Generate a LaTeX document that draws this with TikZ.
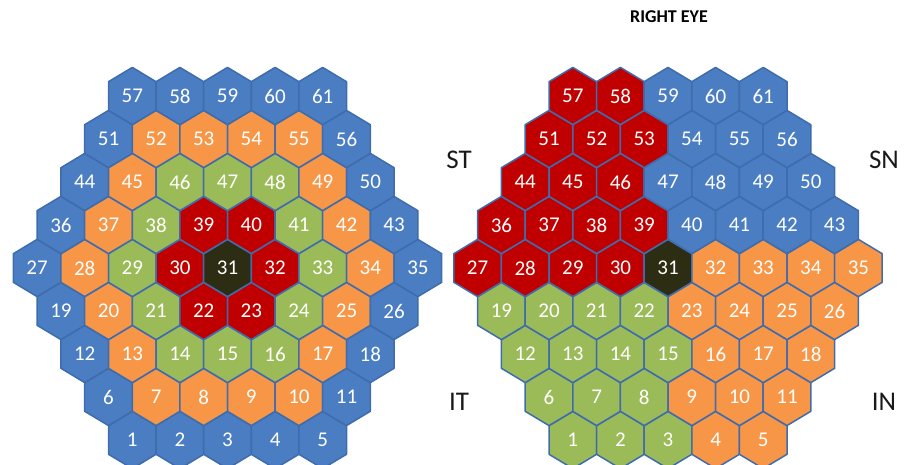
\documentclass[tikz,border=0pt]{standalone}
\usepackage{fontspec}
\setmainfont{Carlito}
\usetikzlibrary{positioning}

\definecolor{hexline}{HTML}{3F6CAD}
\definecolor{cB}{HTML}{4A7DC2}
\definecolor{cO}{HTML}{F79646}
\definecolor{cG}{HTML}{9BBB59}
\definecolor{cR}{HTML}{C00000}
\definecolor{cD}{HTML}{2C2D12}

\begin{document}
\begin{tikzpicture}[
    x=1pt, y=-1pt,
    hexcell/.style={draw=hexline, line width=1.5pt, line join=round},
    cellnum/.style={text=white, font=\fontsize{21}{21}\selectfont, inner sep=0pt},
    side/.style={text=black!90, font=\fontsize{27}{27}\selectfont}
]
\useasboundingbox (0,0) rectangle (909,465);

% left eye
\foreach \r/\f/\cl in {0/1/{B,B,B,B,B}, 1/6/{B,O,O,O,O,B}, 2/12/{B,O,G,G,G,O,B},
    3/19/{B,O,G,R,R,G,O,B}, 4/27/{B,O,G,R,D,R,G,O,B}, 5/36/{B,O,G,R,R,G,O,B},
    6/44/{B,O,G,G,G,O,B}, 7/51/{B,O,O,O,O,B}, 8/57/{B,B,B,B,B}} {
  \pgfmathsetmacro{\k}{9-abs(\r-4)}
  \foreach \c [count=\j from 0] in \cl {
    \pgfmathtruncatemacro{\n}{\f+\j}
    \pgfmathsetmacro{\hx}{227.5+(\j-(\k-1)/2)*47.6}
    \pgfmathsetmacro{\hy}{268-(\r-4)*43}
    \filldraw[hexcell, fill=c\c] (\hx,\hy) +(0,-28.6) -- +(23.8,-14.3) -- +(23.8,14.3)
      -- +(0,28.6) -- +(-23.8,14.3) -- +(-23.8,-14.3) -- cycle;
    \node[cellnum] (l\n) at (\hx,\hy) {\n};
  }
}

% right eye
\foreach \r/\f/\cl in {0/1/{G,G,G,O,O}, 1/6/{G,G,G,O,O,O}, 2/12/{G,G,G,G,O,O,O},
    3/19/{G,G,G,G,O,O,O,O}, 4/27/{R,R,R,R,D,O,O,O,O}, 5/36/{R,R,R,R,B,B,B,B},
    6/44/{R,R,R,B,B,B,B}, 7/51/{R,R,R,B,B,B}, 8/57/{R,R,B,B,B}} {
  \pgfmathsetmacro{\k}{9-abs(\r-4)}
  \foreach \c [count=\j from 0] in \cl {
    \pgfmathtruncatemacro{\n}{\f+\j}
    \pgfmathsetmacro{\hx}{668+(\j-(\k-1)/2)*47.6}
    \pgfmathsetmacro{\hy}{268-(\r-4)*43}
    \filldraw[hexcell, fill=c\c] (\hx,\hy) +(0,-28.6) -- +(23.8,-14.3) -- +(23.8,14.3)
      -- +(0,28.6) -- +(-23.8,14.3) -- +(-23.8,-14.3) -- cycle;
    \node[cellnum] (r\n) at (\hx,\hy) {\n};
  }
}

\node[font=\bfseries\fontsize{18}{18}\selectfont] (title) at (669,17) {RIGHT EYE};
\node[side] (lblST) at (459,160) {ST};
\node[side] (lblIT) at (459,402) {IT};
\node[side] (lblSN) at (884,160) {SN};
\node[side] (lblIN) at (884,402) {IN};

\end{tikzpicture}
\end{document}
